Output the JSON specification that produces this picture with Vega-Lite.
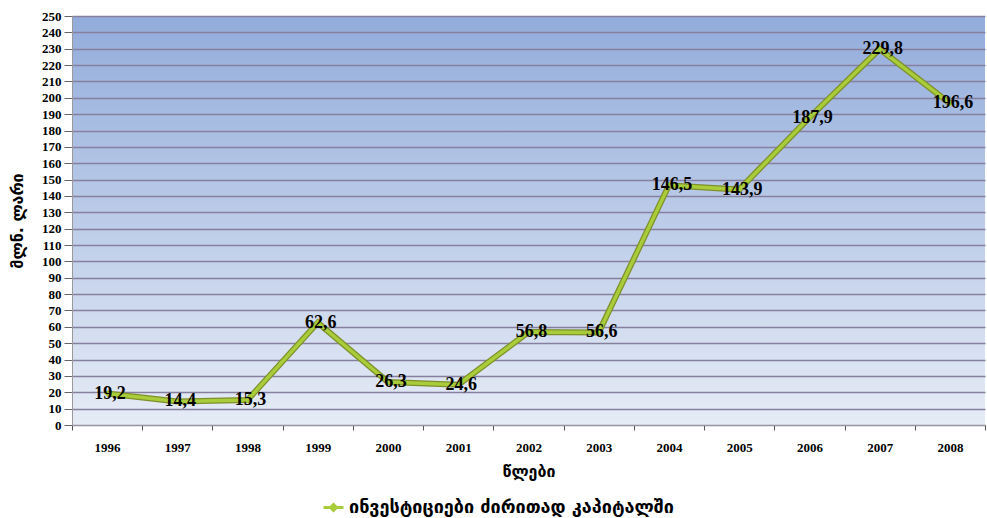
{
  "$schema": "https://vega.github.io/schema/vega-lite/v6.json",
  "width": 913,
  "height": 409,
  "autosize": {"type": "none"},
  "padding": {"left": 72, "top": 16, "right": 2, "bottom": 93},
  "background": "white",
  "config": {
    "locale": {"number": {"decimal": ",", "thousands": " ", "grouping": [3], "currency": ["", ""]}},
    "view": {"stroke": null, "fill": {"gradient": "linear", "x1": 0, "y1": 0, "x2": 0, "y2": 1, "stops": [{"offset": 0, "color": "#92acdb"}, {"offset": 1, "color": "#e6ecf6"}]}},
    "axis": {"labelFont": "Liberation Serif", "labelFontWeight": "bold", "labelColor": "#000000", "labelFontSize": 13}
  },
  "data": {"values": [
    {"year": "1996", "value": 19.2, "series": "ინვესტიციები ძირითად კაპიტალში"},
    {"year": "1997", "value": 14.4, "series": "ინვესტიციები ძირითად კაპიტალში"},
    {"year": "1998", "value": 15.3, "series": "ინვესტიციები ძირითად კაპიტალში"},
    {"year": "1999", "value": 62.6, "series": "ინვესტიციები ძირითად კაპიტალში"},
    {"year": "2000", "value": 26.3, "series": "ინვესტიციები ძირითად კაპიტალში"},
    {"year": "2001", "value": 24.6, "series": "ინვესტიციები ძირითად კაპიტალში"},
    {"year": "2002", "value": 56.8, "series": "ინვესტიციები ძირითად კაპიტალში"},
    {"year": "2003", "value": 56.6, "series": "ინვესტიციები ძირითად კაპიტალში"},
    {"year": "2004", "value": 146.5, "series": "ინვესტიციები ძირითად კაპიტალში"},
    {"year": "2005", "value": 143.9, "series": "ინვესტიციები ძირითად კაპიტალში"},
    {"year": "2006", "value": 187.9, "series": "ინვესტიციები ძირითად კაპიტალში"},
    {"year": "2007", "value": 229.8, "series": "ინვესტიციები ძირითად კაპიტალში"},
    {"year": "2008", "value": 196.6, "series": "ინვესტიციები ძირითად კაპიტალში"}
  ]},
  "encoding": {
    "x": {"field": "year", "type": "ordinal", "scale": {"type": "band", "paddingInner": 0, "paddingOuter": 0}, "axis": {"title": "წლები", "titleFont": "DejaVu Sans", "titleFontSize": 16, "titleFontWeight": "bold", "titlePadding": 9, "labelAngle": 0, "labelPadding": 11, "tickBand": "extent", "tickSize": 5, "tickColor": "#555555", "domainColor": "#9a9a9a", "grid": false}},
    "y": {"field": "value", "type": "quantitative", "scale": {"domain": [0, 250]}, "axis": {"title": "მლნ. ლარი", "titleFont": "DejaVu Sans", "titleFontSize": 16, "titleFontWeight": "bold", "titleX": -47, "values": [0,10,20,30,40,50,60,70,80,90,100,110,120,130,140,150,160,170,180,190,200,210,220,230,240,250], "labelOverlap": false, "tickSize": 8, "tickColor": "#666666", "domainColor": "#9a9a9a", "labelPadding": 3, "grid": true, "gridColor": "#86809e", "gridWidth": 1.5}}
  },
  "layer": [
    {
      "mark": {"type": "line", "color": "#7f8f2a", "strokeWidth": 6}
    },
    {
      "mark": {"type": "line", "strokeWidth": 3.5, "point": {"shape": "diamond", "filled": true, "size": 40}},
      "encoding": {
        "color": {"field": "series", "type": "nominal", "scale": {"range": ["#a8cc3a"]}, "legend": {"title": null, "orient": "none", "legendX": 250, "legendY": 480, "direction": "horizontal", "labelFont": "DejaVu Sans", "labelFontWeight": "bold", "labelFontSize": 18, "labelLimit": 700, "labelColor": "#000000", "symbolType": "M-1,0H-0.3L0,-0.3L0.3,0H1H0.3L0,0.3L-0.3,0Z", "symbolFillColor": "#a8cc3a", "symbolStrokeWidth": 3, "symbolSize": 400}}
      }
    },
    {
      "mark": {"type": "text", "font": "Liberation Serif", "fontWeight": "bold", "fontSize": 18, "color": "#000000", "baseline": "middle", "align": "center", "dx": 3},
      "encoding": {
        "text": {"field": "value", "type": "quantitative", "format": ".1f"}
      }
    }
  ]
}
